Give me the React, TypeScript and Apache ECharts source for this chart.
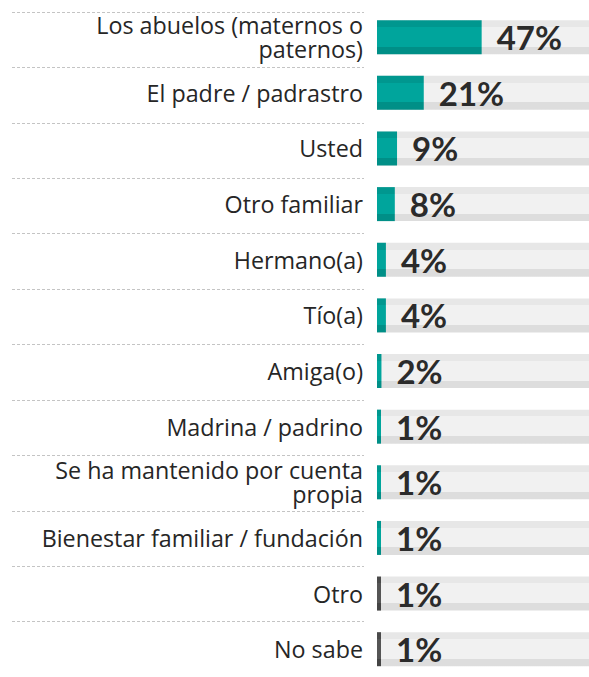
import React, { useEffect, useRef } from "react";
import * as echarts from "echarts";

const categories: string[] = [
  "Los abuelos (maternos o\npaternos)",
  "El padre / padrastro",
  "Usted",
  "Otro familiar",
  "Hermano(a)",
  "Tío(a)",
  "Amiga(o)",
  "Madrina / padrino",
  "Se ha mantenido por cuenta\npropia",
  "Bienestar familiar / fundación",
  "Otro",
  "No sabe",
];
const values: number[] = [47, 21, 9, 8, 4, 4, 2, 1, 1, 1, 1, 1];
const grayCategories: string[] = ["Otro", "No sabe"];

const stripes = (top: string, mid: string, bottom: string) =>
  new echarts.graphic.LinearGradient(0, 0, 0, 1, [
    { offset: 0, color: top },
    { offset: 0.2, color: top },
    { offset: 0.2, color: mid },
    { offset: 0.78, color: mid },
    { offset: 0.78, color: bottom },
    { offset: 1, color: bottom },
  ]);

export default function App() {
  const ref = useRef<HTMLDivElement>(null);
  useEffect(() => {
    if (!ref.current) return;
    const chart = echarts.init(ref.current, undefined, { renderer: "svg" });
    const teal = stripes("#00978f", "#00a59c", "#008f87");
    const gray = stripes("#4a4a4a", "#555555", "#444444");
    const data = values.map((v, i) => ({
      value: v,
      itemStyle: { color: grayCategories.includes(categories[i]) ? gray : teal },
    }));
    chart.setOption({
      animation: false,
      grid: [
        { left: 377, top: 9.4, right: 0, height: 668.4 },
        { left: 12, top: 12, width: 352, height: 672 },
      ],
      xAxis: [
        { type: "value", min: 0, max: 95.2, show: false, gridIndex: 0 },
        { type: "value", min: 0, max: 100, show: false, gridIndex: 1 },
      ],
      yAxis: [
        {
          type: "category",
          data: categories,
          inverse: true,
          gridIndex: 0,
          axisLine: { show: false },
          axisTick: { show: false },
          splitLine: { show: false },
          axisLabel: {
            margin: 14,
            fontFamily: "Open Sans",
            fontSize: 23.3,
            lineHeight: 24,
            color: "#262626",
            align: "right",
          },
        },
        {
          type: "category",
          data: categories,
          inverse: true,
          gridIndex: 1,
          axisLine: { show: false },
          axisTick: { show: false },
          axisLabel: { show: false },
          splitLine: {
            show: true,
            lineStyle: { color: "#c4c4c4", width: 1, type: [3, 2] },
          },
        },
      ],
      series: [
        {
          type: "bar",
          xAxisIndex: 0,
          yAxisIndex: 0,
          data,
          barWidth: 34,
          barMinHeight: 4,
          showBackground: true,
          backgroundStyle: { color: stripes("#e7e7e7", "#f1f1f1", "#dddddd") },
          label: {
            show: true,
            position: "right",
            distance: 15,
            formatter: "{c}%",
            fontFamily: "Lato",
            fontWeight: "bold",
            fontSize: 33,
            color: "#2b2b2b",
          },
        },
      ],
    });
    return () => chart.dispose();
  }, []);
  return (
    <div
      ref={ref}
      style={{ position: "fixed", left: 0, top: 0, width: 589, height: 677, background: "#fff" }}
    />
  );
}
